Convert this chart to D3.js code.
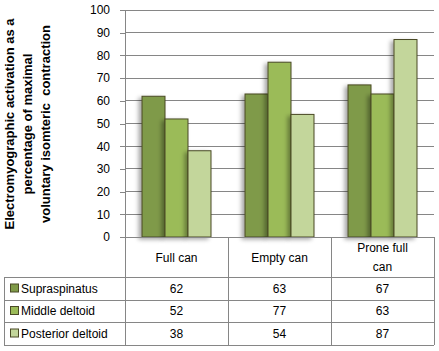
<!DOCTYPE html>
<html>
<head>
<meta charset="utf-8">
<script src="https://cdn.jsdelivr.net/npm/d3@7"></script>
<style>
  body { margin: 0; background: #fff; }
  text { font-family: "Liberation Sans", Arial, sans-serif; }
</style>
</head>
<body>
<div id="chart"></div>
<script>
// data
let categories = ["Full can", "Empty can", "Prone full can"];
let series = ["Supraspinatus", "Middle deltoid", "Posterior deltoid"];
let supraspinatus = [62, 63, 67];
let middleDeltoid = [52, 77, 63];
let posteriorDeltoid = [38, 54, 87];
let yTicks = [0, 10, 20, 30, 40, 50, 60, 70, 80, 90, 100];
let colors = ["#7f9a48", "#9bbb59", "#c3d69b"];

let values = [supraspinatus, middleDeltoid, posteriorDeltoid];

let width = 439,
height = 351;

// plot box (named so it doesn't clash with window.top)
let pLeft = 125, pRight = 434, pTop = 10, pBottom = 237;
let rowTops = [277, 300, 322, 345];

let svg = d3.select("#chart")
.append("svg")
.attr("width", width)
.attr("height", height);

// shadow behind bars
let defs = svg.append("defs");
defs.append("filter")
  .attr("id", "shadow")
  .attr("x", "-50%").attr("y", "-10%")
  .attr("width", "200%").attr("height", "130%")
  .append("feDropShadow")
  .attr("dx", -3).attr("dy", 2)
  .attr("stdDeviation", 2)
  .attr("flood-color", "#000")
  .attr("flood-opacity", 0.35);

let x0 = d3.scaleBand()
.domain(categories)
.range([pLeft, pRight])
.padding(0);

let x1 = d3.scaleBand()
.domain(series)
.range([0, x0.bandwidth()])
.paddingInner(0)
.paddingOuter(0.74);

let y = d3.scaleLinear()
.domain([0, 100])
.range([pBottom, pTop]);

// grid
svg.append("g")
  .selectAll("line")
  .data(yTicks.filter(d => d > 0))
  .join("line")
  .attr("x1", pLeft).attr("x2", pRight)
  .attr("y1", d => y(d)).attr("y2", d => y(d))
  .attr("stroke", "#868686")
  .attr("stroke-width", 1)
  .attr("shape-rendering", "crispEdges");

// y axis
let yAxis = svg.append("g")
  .attr("transform", `translate(${pLeft},0)`)
  .call(d3.axisLeft(y).tickValues(yTicks).tickSize(5).tickPadding(10));
yAxis.select(".domain").attr("stroke", "#868686").attr("d", `M0,${pTop}V${pBottom}`);
yAxis.selectAll(".tick line").attr("stroke", "#868686");
yAxis.selectAll(".tick text")
  .attr("fill", "#000")
  .style("font-size", "12px")
  .style("font-family", "Liberation Sans, Arial, sans-serif");
yAxis.attr("shape-rendering", "crispEdges");

// bars
let groups = svg.append("g")
  .selectAll("g")
  .data(categories)
  .join("g")
  .attr("transform", d => `translate(${x0(d)},0)`);

groups.selectAll("rect")
  .data((c, ci) => series.map((s, si) => ({ s: s, si: si, v: values[si][ci] })))
  .join("rect")
  .attr("x", d => x1(d.s))
  .attr("y", d => y(d.v))
  .attr("width", x1.bandwidth())
  .attr("height", d => y(0) - y(d.v))
  .attr("fill", d => colors[d.si])
  .attr("stroke", "#4a4a26")
  .attr("stroke-width", 1)
  .attr("filter", "url(#shadow)");

// data table
let tbl = svg.append("g")
  .attr("stroke", "#868686")
  .attr("shape-rendering", "crispEdges");

// x axis line
tbl.append("line")
  .attr("x1", pLeft).attr("x2", pRight)
  .attr("y1", pBottom).attr("y2", pBottom);

// vertical lines of category columns
let xs = categories.map(c => x0(c)).concat([pRight]);
tbl.selectAll("line.v")
  .data(xs)
  .join("line")
  .attr("class", "v")
  .attr("x1", d => d).attr("x2", d => d)
  .attr("y1", pBottom).attr("y2", rowTops[3]);

// row lines
tbl.selectAll("line.h")
  .data(rowTops)
  .join("line")
  .attr("class", "h")
  .attr("x1", 4).attr("x2", pRight)
  .attr("y1", d => d).attr("y2", d => d);

tbl.append("line")
  .attr("x1", 4).attr("x2", 4)
  .attr("y1", rowTops[0]).attr("y2", rowTops[3]);

// header labels
let header = svg.append("g");
categories.forEach(c => {
  let cx = x0(c) + x0.bandwidth() / 2;
  let t = header.append("text")
    .attr("x", cx)
    .attr("text-anchor", "middle")
    .style("font-size", "12px")
    .attr("fill", "#000");
  if (c === "Prone full can") {
    t.append("tspan").attr("x", cx).attr("y", 252).text("Prone full");
    t.append("tspan").attr("x", cx).attr("y", 271).text("can");
  } else {
    t.attr("y", 262).text(c);
  }
});

// legend rows + values
series.forEach((s, si) => {
  let cy = (rowTops[si] + rowTops[si + 1]) / 2;
  svg.append("rect")
    .attr("x", 10.5).attr("y", cy - 4.5)
    .attr("width", 8).attr("height", 8)
    .attr("fill", colors[si])
    .attr("stroke", "#4a4a26")
    .attr("stroke-width", 1);
  svg.append("text")
    .attr("x", 21)
    .attr("y", cy + 4)
    .style("font-size", "12px")
    .attr("fill", "#000")
    .text(s);
  categories.forEach((c, ci) => {
    svg.append("text")
      .attr("x", x0(c) + x0.bandwidth() / 2)
      .attr("y", cy + 4)
      .attr("text-anchor", "middle")
      .style("font-size", "12px")
      .attr("fill", "#000")
      .text(values[si][ci]);
  });
});

// y title
let titleLines = ["Electromyographic activation as a", "percentage of maximal", "voluntary isomteric  contraction"];
svg.append("g")
  .selectAll("text")
  .data(titleLines)
  .join("text")
  .attr("transform", (d, i) => `translate(${14 + i * 18},124) rotate(-90)`)
  .attr("text-anchor", "middle")
  .style("font-size", "13px")
  .style("font-weight", "bold")
  .style("white-space", "pre")
  .attr("fill", "#000")
  .text(d => d);
</script>
</body>
</html>
